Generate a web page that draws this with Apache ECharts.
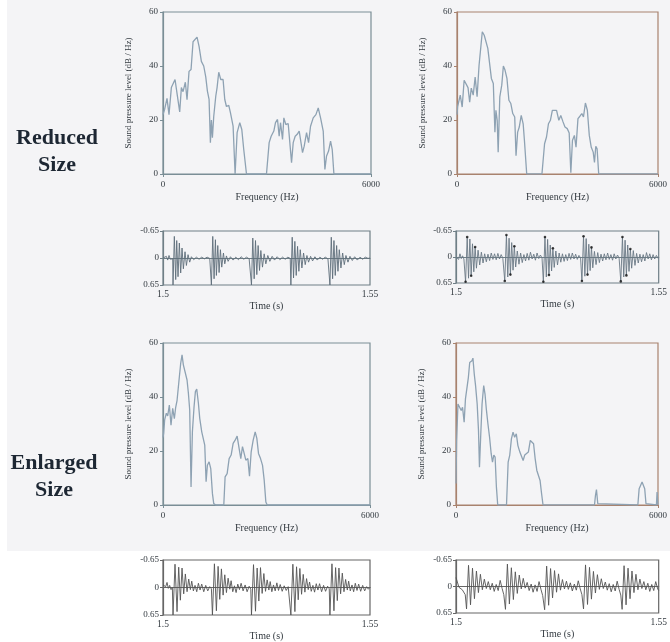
<!DOCTYPE html>
<html>
<head>
<meta charset="utf-8">
<title>Reduced vs enlarged size: spectra and waveforms</title>
<script src="https://cdn.jsdelivr.net/npm/echarts@6/dist/echarts.min.js"></script>
<style>
  html, body { margin: 0; padding: 0; background: #ffffff; }
  #chart { width: 670px; height: 642px; }
</style>
</head>
<body>
<div id="chart"></div>
<script>
// ---- Spectra: [frequency (Hz), sound pressure level (dB/Hz)] ----
const spectrumReducedLeft = [
  [0,22],[48,24],[116,28],[173,22],[241,32],[289,31.5],[347,35],[414,29],[482,23],[530,32],[578,30.5],
  [645,34],[693,27.5],[751,38],[809,38.7],[867,49],[924,48.5],[982,50.7],[1040,47.3],[1107,41.7],[1175,40],
  [1233,36],[1281,30.7],[1329,27.6],[1367,11.6],[1396,20],[1425,13.4],[1464,21.4],[1522,28.8],[1560,32],
  [1608,37.7],[1666,35],[1733,35],[1782,27.6],[1830,25],[1897,25.4],[1945,22.7],[2022,17.7],[2080,0],
  [2138,15.3],[2215,19],[2273,16.5],[2330,9],[2408,0],[2985,0],[3062,11.6],[3120,14],[3197,15.9],[3245,19],
  [3303,20.2],[3351,14],[3390,19],[3448,12.8],[3486,20.8],[3544,18.3],[3611,18.7],[3659,19],[3708,4.2],
  [3756,11.6],[3813,14],[3871,14.7],[3929,15.9],[3977,15.3],[4025,7.9],[4073,10.3],[4141,15.3],[4199,11.6],
  [4256,17.7],[4333,20.8],[4411,22],[4478,24.5],[4545,20.8],[4622,15.9],[4670,1.7],[4718,6.7],[4776,8.5],
  [4834,12.2],[4882,9],[4930,0],[6000,0]
];
const spectrumReducedRight = [
  [0,22],[19,25],[48,24.8],[97,29.2],[155,24.8],[213,34.7],[271,34],[329,32],[378,26.6],[426,31.8],[484,29.2],
  [542,35.9],[600,28.6],[658,40.2],[716,47.7],[755,52.7],[813,51.4],[871,51.4],[920,46.5],[968,45.8],[1026,35.4],
  [1084,33.5],[1132,15.5],[1162,23.6],[1200,19.9],[1229,8.1],[1278,28.6],[1336,32.9],[1384,40],[1433,38.5],
  [1491,35.4],[1549,27.3],[1607,26.1],[1665,22.4],[1723,21.1],[1762,6.8],[1810,15.5],[1859,17.4],[1917,21.7],
  [1975,18.6],[2013,12.4],[2081,0],[2536,0],[2614,11.2],[2672,13.7],[2730,18.6],[2788,19.9],[2846,23.6],
  [2904,23.9],[2972,23.6],[3040,19.9],[3098,21.7],[3165,19.3],[3223,17.4],[3291,16.8],[3349,15.2],[3398,0.5],
  [3446,12.4],[3504,14.3],[3553,9.9],[3611,20.5],[3669,21.4],[3727,22.4],[3775,21.1],[3833,26.3],[3891,23.6],
  [3949,14.3],[4008,9.9],[4066,8.1],[4104,4.3],[4143,10.3],[4182,9.3],[4230,0],[6000,0]
];
const spectrumEnlargedLeft = [
  [0,25],[19,26.5],[48,31.5],[97,34],[136,33],[184,37],[232,29.6],[281,35.8],[329,32],[368,36.2],[407,38.7],
  [465,46.3],[513,52.5],[552,55.6],[590,51.9],[639,51.3],[697,46.3],[736,41.4],[774,35.2],[813,6.7],[852,27.1],
  [900,36.4],[939,42],[978,42.9],[1026,37.7],[1065,32.1],[1123,27.1],[1162,27.8],[1210,22.2],[1249,8.6],
  [1287,14.7],[1336,16],[1384,13.5],[1433,4.2],[1471,0.5],[1529,0],[1762,0],[1800,10.4],[1859,11.6],[1917,17.2],
  [1975,18.5],[2033,22.8],[2091,24],[2149,25.5],[2207,20.9],[2255,17.2],[2304,21.6],[2352,21.3],[2401,16.6],
  [2459,17.2],[2507,10.7],[2556,19.7],[2614,24],[2672,27.1],[2720,24.7],[2768,19.1],[2827,17.2],[2885,14.7],
  [2933,9.2],[2981,1.1],[3020,0],[4790,0],[4840,0.4],[4890,0],[6000,0]
];
const spectrumEnlargedRight = [
  [0,8],[19,23.9],[58,37.4],[106,36.8],[155,35],[194,36.2],[242,30.7],[281,39.3],[329,39.9],[368,47.3],[407,52.8],
  [445,52.2],[474,53.4],[503,54.4],[542,48.5],[581,44.2],[629,37.4],[668,27.6],[697,14],[736,26.4],[774,37.4],
  [823,44.2],[862,41.1],[900,35.6],[949,30],[997,25.1],[1045,19],[1084,15.9],[1123,18.5],[1162,17.7],[1200,6.7],
  [1239,0],[1500,0],[1549,15.9],[1597,18.5],[1646,24.5],[1694,27],[1742,25.1],[1791,26.4],[1839,22],[1897,19.6],
  [1946,20.2],[1994,16.5],[2042,18.5],[2091,19],[2149,19.6],[2207,23.9],[2255,23.3],[2304,22.7],[2352,17.1],
  [2401,12.8],[2449,13.4],[2497,9.1],[2536,4.8],[2585,0],[4114,0],[4143,3.6],[4172,5.7],[4211,0.5],[4240,0],
  [5401,0],[5440,6],[5479,6.7],[5527,8.5],[5566,8.9],[5605,6],[5643,0.5],[5672,0],[5953,0],[5972,4.8],[6000,0]
];

// ---- Waveforms: [time (s), amplitude] ----
const waveReducedLeft = [
  [1.50000,0],[1.50040,0.02],[1.50081,-0.04],[1.50113,0.05],[1.50145,-0.06],[1.50177,0.03],[1.50210,-0.01],[1.50234,0.02],
  [1.50242,0.65],[1.50274,-0.52],[1.50307,0.52],[1.50331,-0.42],[1.50363,0.45],[1.50395,-0.36],[1.50427,0.36],[1.50460,-0.24],
  [1.50492,0.26],[1.50532,-0.15],[1.50565,0.18],[1.50605,-0.08],[1.50645,0.1],[1.50686,-0.03],[1.50742,0.04],[1.50806,-0.02],
  [1.50871,0.03],[1.50935,-0.02],[1.51000,0.02],[1.51065,-0.02],[1.51129,0.01],[1.51161,0],
  [1.51169,0.65],[1.51202,-0.52],[1.51234,0.5],[1.51266,-0.44],[1.51290,0.42],[1.51323,-0.3],[1.51355,0.35],[1.51387,-0.2],
  [1.51419,0.22],[1.51460,-0.12],[1.51492,0.14],[1.51532,-0.05],[1.51573,0.08],[1.51629,-0.03],[1.51694,0.05],[1.51758,-0.02],
  [1.51823,0.04],[1.51887,-0.03],[1.51952,0.03],[1.52016,-0.02],[1.52081,0.02],[1.52129,0],
  [1.52137,0.65],[1.52169,-0.48],[1.52202,0.5],[1.52234,-0.42],[1.52266,0.4],[1.52298,-0.3],[1.52331,0.3],[1.52363,-0.18],
  [1.52403,0.22],[1.52444,-0.1],[1.52484,0.14],[1.52532,-0.06],[1.52581,0.08],[1.52637,-0.04],[1.52694,0.05],[1.52758,-0.03],
  [1.52823,0.04],[1.52887,-0.02],[1.52952,0.03],[1.53016,-0.02],[1.53073,0.01],
  [1.53089,0.65],[1.53121,-0.5],[1.53153,0.48],[1.53185,-0.4],[1.53218,0.42],[1.53250,-0.28],[1.53282,0.32],[1.53315,-0.2],
  [1.53355,0.24],[1.53395,-0.12],[1.53435,0.16],[1.53476,-0.06],[1.53516,0.1],[1.53565,-0.04],[1.53613,0.07],[1.53669,-0.03],
  [1.53726,0.05],[1.53790,-0.02],[1.53855,0.03],[1.53919,-0.02],[1.53984,0.02],[1.54024,0],
  [1.54032,0.65],[1.54065,-0.5],[1.54097,0.5],[1.54129,-0.42],[1.54161,0.42],[1.54194,-0.3],[1.54226,0.32],[1.54258,-0.2],
  [1.54298,0.24],[1.54339,-0.12],[1.54379,0.16],[1.54419,-0.06],[1.54468,0.1],[1.54516,-0.04],[1.54573,0.06],[1.54629,-0.03],
  [1.54694,0.05],[1.54758,-0.02],[1.54823,0.03],[1.54887,-0.02],[1.54952,0.01],[1.55000,0]
];
const waveReducedRight = [
  [1.50000,0],[1.50033,-0.05],[1.50065,0.06],[1.50098,-0.08],[1.50130,0.04],[1.50163,-0.03],[1.50195,0.05],[1.50228,0],
  [1.50236,0.62],[1.50276,-0.5],[1.50309,0.53],[1.50342,-0.45],[1.50374,0.47],[1.50407,-0.33],[1.50439,0.37],[1.50472,-0.25],
  [1.50504,0.28],[1.50545,-0.17],[1.50585,0.2],[1.50626,-0.12],[1.50667,0.15],[1.50707,-0.08],[1.50748,0.12],[1.50789,-0.07],
  [1.50829,0.09],[1.50870,-0.1],[1.50911,0.06],[1.50951,-0.08],[1.50992,0.07],[1.51033,-0.09],[1.51073,0.05],[1.51114,-0.06],
  [1.51155,0.03],[1.51187,0],
  [1.51203,0.6],[1.51244,-0.55],[1.51277,0.5],[1.51309,-0.47],[1.51342,0.44],[1.51374,-0.36],[1.51407,0.33],[1.51439,-0.27],
  [1.51472,0.25],[1.51512,-0.15],[1.51553,0.18],[1.51594,-0.1],[1.51634,0.14],[1.51675,-0.06],[1.51716,0.1],[1.51756,-0.09],
  [1.51797,0.08],[1.51837,-0.12],[1.51878,0.05],[1.51919,-0.07],[1.51959,0.08],[1.52000,-0.1],[1.52041,0.04],[1.52081,-0.05],
  [1.52122,0.02],[1.52138,-0.01],
  [1.52155,0.62],[1.52195,-0.5],[1.52228,0.5],[1.52260,-0.44],[1.52293,0.45],[1.52325,-0.3],[1.52358,0.35],[1.52390,-0.22],
  [1.52423,0.26],[1.52463,-0.15],[1.52504,0.2],[1.52545,-0.1],[1.52585,0.13],[1.52626,-0.08],[1.52667,0.11],[1.52707,-0.06],
  [1.52748,0.09],[1.52789,-0.09],[1.52829,0.06],[1.52870,-0.1],[1.52911,0.05],[1.52951,-0.07],[1.52992,0.06],[1.53033,-0.04],
  [1.53073,0.02],[1.53090,0],
  [1.53106,0.6],[1.53146,-0.52],[1.53179,0.48],[1.53211,-0.46],[1.53244,0.44],[1.53276,-0.32],[1.53309,0.34],[1.53342,-0.24],
  [1.53374,0.27],[1.53415,-0.14],[1.53455,0.19],[1.53496,-0.11],[1.53537,0.14],[1.53577,-0.07],[1.53618,0.1],[1.53659,-0.08],
  [1.53699,0.07],[1.53740,-0.1],[1.53781,0.06],[1.53821,-0.06],[1.53862,0.08],[1.53902,-0.08],[1.53943,0.05],[1.53984,-0.05],
  [1.54024,0.03],[1.54049,0],
  [1.54065,0.61],[1.54106,-0.5],[1.54138,0.5],[1.54171,-0.42],[1.54203,0.46],[1.54236,-0.3],[1.54268,0.36],[1.54301,-0.2],
  [1.54333,0.28],[1.54374,-0.16],[1.54415,0.21],[1.54455,-0.09],[1.54496,0.15],[1.54537,-0.07],[1.54577,0.12],[1.54618,-0.06],
  [1.54659,0.1],[1.54699,-0.11],[1.54740,0.05],[1.54780,-0.08],[1.54821,0.07],[1.54862,-0.06],[1.54902,0.05],[1.54943,-0.04],
  [1.54984,0.03],[1.55000,0]
];
// glottal-pulse marks on the right-hand reduced waveform
const waveReducedRightMarks = [
  [1.50236,0.62],[1.50276,-0.5],[1.50374,0.47],[1.50472,-0.25],
  [1.51203,0.6],[1.51244,-0.55],[1.51342,0.44],[1.51439,-0.27],
  [1.52155,0.62],[1.52195,-0.5],[1.52293,0.45],[1.52390,-0.22],
  [1.53106,0.6],[1.53146,-0.52],[1.53244,0.44],[1.53342,-0.24],
  [1.54065,0.61],[1.54106,-0.5],[1.54203,0.46],[1.54301,-0.2]
];
const waveEnlargedLeft = [
  [1.50000,-0.06],[1.50032,-0.1],[1.50065,-0.02],[1.50097,-0.12],[1.50129,0.02],[1.50161,-0.05],[1.50194,0.05],[1.50226,0],
  [1.50242,0.65],[1.50290,-0.55],[1.50339,0.57],[1.50379,-0.48],[1.50419,0.3],[1.50460,-0.46],[1.50500,0.15],[1.50540,-0.32],
  [1.50581,0.1],[1.50621,-0.2],[1.50661,0.05],[1.50694,-0.15],[1.50734,0.08],[1.50774,-0.05],[1.50815,0.1],[1.50855,-0.1],
  [1.50895,0.06],[1.50935,-0.08],[1.50984,0.1],[1.51032,-0.05],[1.51081,0.08],[1.51129,-0.02],[1.51169,0.03],
  [1.51194,0.65],[1.51242,-0.56],[1.51290,0.55],[1.51331,-0.5],[1.51371,0.28],[1.51411,-0.44],[1.51452,0.18],[1.51492,-0.3],
  [1.51532,0.12],[1.51573,-0.22],[1.51613,0.04],[1.51645,-0.16],[1.51685,0.1],[1.51726,-0.04],[1.51766,0.12],[1.51806,-0.08],
  [1.51847,0.05],[1.51887,-0.1],[1.51935,0.08],[1.51984,-0.06],[1.52032,0.1],[1.52081,-0.03],[1.52121,0.04],
  [1.52137,0.65],[1.52186,-0.54],[1.52234,0.56],[1.52274,-0.46],[1.52315,0.32],[1.52355,-0.47],[1.52395,0.14],[1.52436,-0.33],
  [1.52476,0.09],[1.52516,-0.18],[1.52557,0.06],[1.52589,-0.14],[1.52629,0.1],[1.52669,-0.06],[1.52710,0.08],[1.52750,-0.11],
  [1.52790,0.07],[1.52831,-0.07],[1.52879,0.09],[1.52927,-0.04],[1.52976,0.07],[1.53024,-0.02],[1.53065,0.02],
  [1.53089,0.65],[1.53137,-0.55],[1.53186,0.57],[1.53226,-0.49],[1.53266,0.29],[1.53306,-0.45],[1.53347,0.16],[1.53387,-0.31],
  [1.53427,0.11],[1.53468,-0.21],[1.53508,0.05],[1.53540,-0.13],[1.53581,0.09],[1.53621,-0.05],[1.53661,0.11],[1.53702,-0.09],
  [1.53742,0.06],[1.53782,-0.09],[1.53831,0.1],[1.53879,-0.05],[1.53927,0.09],[1.53976,-0.03],[1.54016,0.03],
  [1.54032,0.65],[1.54081,-0.56],[1.54129,0.55],[1.54169,-0.47],[1.54210,0.31],[1.54250,-0.46],[1.54290,0.15],[1.54331,-0.34],
  [1.54371,0.1],[1.54411,-0.19],[1.54452,0.06],[1.54484,-0.15],[1.54524,0.08],[1.54565,-0.06],[1.54605,0.1],[1.54645,-0.1],
  [1.54686,0.07],[1.54726,-0.08],[1.54774,0.09],[1.54823,-0.05],[1.54871,0.08],[1.54919,-0.02],[1.54960,0.04],[1.55000,0]
];
const waveEnlargedRight = [
  [1.50000,-0.22],[1.50033,-0.18],[1.50073,0.02],[1.50114,-0.02],[1.50155,0.08],[1.50195,0.12],[1.50228,0.2],
  [1.50260,0.55],[1.50309,-0.52],[1.50358,0.45],[1.50407,-0.45],[1.50455,0.3],[1.50504,-0.38],[1.50553,0.15],[1.50602,-0.3],
  [1.50650,0.08],[1.50699,-0.18],[1.50748,0.05],[1.50797,-0.12],[1.50846,0.08],[1.50894,-0.08],[1.50943,0.12],[1.50992,-0.05],
  [1.51041,0.1],[1.51090,-0.15],[1.51138,0.05],[1.51179,0.2],
  [1.51220,0.56],[1.51268,-0.55],[1.51317,0.43],[1.51366,-0.46],[1.51415,0.32],[1.51463,-0.36],[1.51512,0.17],[1.51561,-0.28],
  [1.51610,0.06],[1.51659,-0.2],[1.51707,0.04],[1.51756,-0.1],[1.51805,0.1],[1.51854,-0.06],[1.51902,0.14],[1.51951,-0.04],
  [1.52000,0.12],[1.52049,-0.12],[1.52098,0.08],[1.52138,0.22],
  [1.52187,0.57],[1.52236,-0.5],[1.52285,0.46],[1.52333,-0.44],[1.52382,0.28],[1.52431,-0.39],[1.52480,0.14],[1.52529,-0.31],
  [1.52577,0.09],[1.52626,-0.17],[1.52675,0.06],[1.52724,-0.13],[1.52772,0.07],[1.52821,-0.09],[1.52870,0.11],[1.52919,-0.06],
  [1.52968,0.09],[1.53016,-0.14],[1.53065,0.06],[1.53106,0.2],
  [1.53146,0.55],[1.53195,-0.53],[1.53244,0.44],[1.53293,-0.47],[1.53341,0.31],[1.53390,-0.37],[1.53439,0.16],[1.53488,-0.29],
  [1.53537,0.07],[1.53585,-0.19],[1.53634,0.05],[1.53683,-0.11],[1.53732,0.09],[1.53780,-0.07],[1.53829,0.13],[1.53878,-0.05],
  [1.53927,0.11],[1.53976,-0.13],[1.54024,0.07],[1.54065,0.21],
  [1.54098,0.56],[1.54146,-0.51],[1.54195,0.45],[1.54244,-0.45],[1.54293,0.3],[1.54341,-0.38],[1.54390,0.15],[1.54439,-0.3],
  [1.54488,0.08],[1.54537,-0.18],[1.54585,0.05],[1.54634,-0.12],[1.54683,0.08],[1.54732,-0.08],[1.54780,0.12],[1.54829,-0.05],
  [1.54878,0.1],[1.54927,-0.12],[1.54976,0.06],[1.55000,0.1]
];

// ---- axis ranges and titles ----
const freqRange = [0, 6000];
const levelRange = [0, 60];
const levelStep = 20;
const timeRange = [1.5, 1.55];
const ampRange = [-0.65, 0.65];
const freqTitle = 'Frequency (Hz)';
const levelTitle = 'Sound pressure level (dB / Hz)';
const timeTitle = 'Time (s)';
const rowLabels = [['Reduced', 'Size'], ['Enlarged', 'Size']];

const serif = '"Liberation Serif", "Times New Roman", serif';
const textColor = '#333a40';
const plainNumber = v => String(Math.round(v * 1000) / 1000);

const panels = [
  { kind: 'spec', box: { left: 163, top: 12, width: 208, height: 162 }, data: spectrumReducedLeft, frame: '#7a8e96' },
  { kind: 'spec', box: { left: 457, top: 12, width: 206, height: 162 }, data: spectrumReducedRight, frame: '#a8826e' },
  { kind: 'wave', box: { left: 163, top: 231, width: 207, height: 54 }, data: waveReducedLeft, frame: '#6f7f86', line: '#5f6e7a' },
  { kind: 'wave', box: { left: 456, top: 231, width: 205, height: 52 }, data: waveReducedRight, frame: '#6f7f86', line: '#6a7884', marks: waveReducedRightMarks },
  { kind: 'spec', box: { left: 163, top: 343, width: 207, height: 162 }, data: spectrumEnlargedLeft, frame: '#7a8e96' },
  { kind: 'spec', box: { left: 456, top: 343, width: 207, height: 162 }, data: spectrumEnlargedRight, frame: '#a8826e' },
  { kind: 'wave', box: { left: 163, top: 560, width: 207, height: 55 }, data: waveEnlargedLeft, frame: '#666', line: '#555' },
  { kind: 'wave', box: { left: 456, top: 560, width: 205, height: 53 }, data: waveEnlargedRight, frame: '#666', line: '#555' }
];

const grid = [], xAxis = [], yAxis = [], series = [];
panels.forEach((p, i) => {
  grid.push(Object.assign({ show: true, borderColor: p.frame, borderWidth: 1.2, backgroundColor: 'transparent' }, p.box));
  const lineStyle = { color: p.frame, width: 1.2 };
  const tick = { show: true, length: 3, lineStyle: { color: p.frame } };
  const label = { fontFamily: serif, fontSize: 9, color: textColor, formatter: plainNumber };
  if (p.kind === 'spec') {
    xAxis.push({
      gridIndex: i, type: 'value', min: freqRange[0], max: freqRange[1], interval: freqRange[1],
      axisLine: { lineStyle }, axisTick: tick, splitLine: { show: false },
      axisLabel: Object.assign({ margin: 6 }, label),
      name: freqTitle, nameLocation: 'middle', nameGap: 18,
      nameTextStyle: { fontFamily: serif, fontSize: 10, color: textColor }
    });
    yAxis.push({
      gridIndex: i, type: 'value', min: levelRange[0], max: levelRange[1], interval: levelStep,
      axisLine: { show: true, lineStyle }, axisTick: tick, splitLine: { show: false },
      axisLabel: Object.assign({ margin: 5 }, label),
      name: levelTitle, nameLocation: 'middle', nameGap: 30, nameRotate: 90,
      nameTextStyle: { fontFamily: serif, fontSize: 9, color: textColor }
    });
    series.push({
      type: 'line', xAxisIndex: i, yAxisIndex: i, data: p.data, showSymbol: false,
      lineStyle: { color: '#8ea2b3', width: 1.3 }, animation: false, z: 3
    });
  } else {
    xAxis.push({
      gridIndex: i, type: 'value', min: timeRange[0], max: timeRange[1], interval: 0.05,
      axisLine: { lineStyle }, axisTick: { show: false }, splitLine: { show: false },
      axisLabel: Object.assign({ margin: 4 }, label, { fontSize: 9.5 }),
      name: timeTitle, nameLocation: 'middle', nameGap: 16,
      nameTextStyle: { fontFamily: serif, fontSize: 10, color: textColor }
    });
    yAxis.push({
      gridIndex: i, type: 'value', inverse: true, min: ampRange[0], max: ampRange[1], interval: 0.65,
      axisLine: { show: true, lineStyle }, axisTick: tick, splitLine: { show: false },
      axisLabel: Object.assign({ margin: 4 }, label)
    });
    series.push({
      type: 'line', xAxisIndex: i, yAxisIndex: i, data: p.data, showSymbol: false,
      lineStyle: { color: p.line, width: 0.9 }, animation: false, z: 3
    });
    if (p.marks) {
      series.push({
        type: 'scatter', xAxisIndex: i, yAxisIndex: i, data: p.marks,
        symbolSize: 2.6, itemStyle: { color: '#111' }, animation: false, z: 4
      });
    }
  }
});

const graphic = [
  { type: 'rect', z: -10, silent: true, shape: { x: 7, y: 0, width: 663, height: 551 }, style: { fill: '#f4f4f6' } }
];
const labelCenters = [[57, 138, 57, 165], [54, 463, 54, 490]];
rowLabels.forEach((pair, r) => {
  const c = labelCenters[r];
  [0, 1].forEach(k => {
    graphic.push({
      type: 'text', silent: true, z: 5,
      style: {
        text: pair[k], x: c[k * 2], y: c[k * 2 + 1], align: 'center', verticalAlign: 'middle',
        fontFamily: serif, fontSize: 22, fontWeight: 'bold', fill: '#1d2733'
      }
    });
  });
});

const chart = echarts.init(document.getElementById('chart'), null, { renderer: 'canvas' });
chart.setOption({
  backgroundColor: '#ffffff',
  animation: false,
  grid, xAxis, yAxis, series, graphic
});
</script>
</body>
</html>
